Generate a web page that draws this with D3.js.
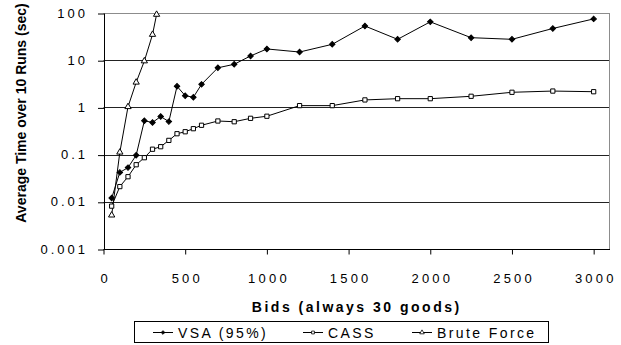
<!DOCTYPE html>
<html>
<head>
<meta charset="utf-8">
<script src="https://d3js.org/d3.v7.min.js"></script>
<style>
  body { margin: 0; background: #fff; }
  text { font-family: Arial, "Liberation Sans", sans-serif; }
</style>
</head>
<body>
<div id="chart"></div>
<script>
// data
var bids = [50, 100, 150, 200, 250, 300, 350, 400, 450, 500, 550, 600, 700, 800, 900, 1000, 1200, 1400, 1600, 1800, 2000, 2250, 2500, 2750, 3000];
var vsa = [0.012, 0.042, 0.053, 0.097, 0.52, 0.48, 0.64, 0.50, 2.8, 1.77, 1.64, 3.08, 6.9, 8.2, 12.3, 17.3, 14.9, 21.7, 53, 27.7, 65, 30, 27.7, 47, 75];
var cass = [0.0081, 0.021, 0.034, 0.061, 0.086, 0.13, 0.147, 0.20, 0.277, 0.305, 0.354, 0.418, 0.515, 0.497, 0.587, 0.65, 1.09, 1.09, 1.44, 1.53, 1.53, 1.72, 2.09, 2.22, 2.15];
var bruteBids = [50, 100, 150, 200, 250, 300, 325];
var brute = [0.0052, 0.112, 1.03, 3.4, 9.6, 35, 93];
var xTicks = [0, 500, 1000, 1500, 2000, 2500, 3000];
var yTicks = [0.001, 0.01, 0.1, 1, 10, 100];
var yTickLabels = ["0.001", "0.01", "0.1", "1", "10", "100"];
var seriesNames = ["VSA (95%)", "CASS", "Brute Force"];

// set the dimensions and margins of the graph
var margin = {top: 13, right: 11, bottom: 96, left: 103.5},
    width = 621 - margin.left - margin.right,
    height = 345 - margin.top - margin.bottom;

var svg = d3.select("#chart")
  .append("svg")
    .attr("width", 621)
    .attr("height", 345)
  .append("g")
    .attr("transform", "translate(" + margin.left + "," + margin.top + ")");

var x = d3.scaleLinear()
  .domain([0, 3100])
  .range([0, width]);

var y = d3.scaleLog()
  .domain([0.001, 100])
  .range([height, 0]);

// gridlines
svg.selectAll("grid")
  .data(yTicks.slice(1))
  .enter()
  .append("line")
    .attr("x1", 0)
    .attr("x2", width)
    .attr("y1", function(d) { return Math.round(y(d)) + 0.5; })
    .attr("y2", function(d) { return Math.round(y(d)) + 0.5; })
    .attr("stroke", function(d) { return d == 100 ? "#8c8c8c" : "#222"; })
    .attr("stroke-width", 1);

// gray plot border on the right
svg.append("line")
  .attr("x1", width - 0.5)
  .attr("x2", width - 0.5)
  .attr("y1", 0)
  .attr("y2", height)
  .attr("stroke", "#8c8c8c");

// X axis
var xAxis = svg.append("g")
  .attr("transform", "translate(0," + (height + 0.5) + ")")
  .call(d3.axisBottom(x).tickValues(xTicks).tickFormat(d3.format("d"))
    .tickSize(5).tickPadding(19).tickSizeOuter(0));
xAxis.select(".domain").attr("d", "M0,0H" + width);
xAxis.selectAll("text")
  .style("font-size", "13px")
  .style("letter-spacing", "3.2px")
  .attr("dx", "1.6px");

// Y axis
var yAxis = svg.append("g")
  .attr("transform", "translate(0.5,0)")
  .call(d3.axisLeft(y).tickValues(yTicks).tickFormat(function(d, i) { return yTickLabels[i]; })
    .tickSize(6).tickPadding(13).tickSizeOuter(0));
yAxis.selectAll("text")
  .style("font-size", "13px")
  .style("letter-spacing", "3px")
  .attr("dx", "3px");
yAxis.selectAll(".tick line").attr("transform", "translate(0,0.5)");

// axis titles
svg.append("text")
  .attr("x", width / 2)
  .attr("y", height + 63)
  .style("text-anchor", "middle")
  .style("font-size", "14px")
  .style("font-weight", "bold")
  .style("letter-spacing", "2.5px")
  .text("Bids (always 30 goods)");

svg.append("text")
  .attr("transform", "rotate(-90)")
  .attr("x", 0 - 100)
  .attr("y", 0 - margin.left + 26)
  .style("text-anchor", "middle")
  .style("font-size", "14px")
  .style("font-weight", "bold")
  .text("Average Time over 10 Runs (sec)");

// lines
var line = d3.line()
  .x(function(d) { return x(d[0]); })
  .y(function(d) { return y(d[1]); });

var series = [
  bids.map(function(b, i) { return [b, vsa[i]]; }),
  bids.map(function(b, i) { return [b, cass[i]]; }),
  bruteBids.map(function(b, i) { return [b, brute[i]]; })
];

series.forEach(function(s) {
  svg.append("path")
    .datum(s)
    .attr("fill", "none")
    .attr("stroke", "#000")
    .attr("stroke-width", 1)
    .attr("d", line);
});

// markers (diamond = square turned 45 degrees)
var shapes = [
  d3.symbol().type(d3.symbolSquare).size(15),
  d3.symbol().type(d3.symbolSquare).size(18),
  d3.symbol().type(d3.symbolTriangle).size(17)
];
var turns = [45, 0, 0];
var fills = ["#000", "#fff", "#fff"];

series.forEach(function(s, k) {
  svg.selectAll("mark" + k)
    .data(s)
    .enter()
    .append("path")
      .attr("transform", function(d) {
        return "translate(" + x(d[0]) + "," + y(d[1]) + ")rotate(" + turns[k] + ")";
      })
      .attr("d", shapes[k])
      .attr("fill", fills[k])
      .attr("stroke", "#000")
      .attr("stroke-width", 1);
});

// legend
var legend = d3.select("svg").append("g");
legend.append("rect")
  .attr("x", 134.5)
  .attr("y", 321.5)
  .attr("width", 414)
  .attr("height", 21)
  .attr("fill", "#fff")
  .attr("stroke", "#000");

var legendX = [153, 303, 412];
var legendShapes = [
  d3.symbol().type(d3.symbolSquare).size(7),
  d3.symbol().type(d3.symbolSquare).size(8),
  d3.symbol().type(d3.symbolTriangle).size(9)
];
seriesNames.forEach(function(name, k) {
  legend.append("line")
    .attr("x1", legendX[k])
    .attr("x2", legendX[k] + 20)
    .attr("y1", 332.5)
    .attr("y2", 332.5)
    .attr("stroke", "#000");
  legend.append("path")
    .attr("transform", "translate(" + (legendX[k] + 10) + ",332.5)rotate(" + turns[k] + ")")
    .attr("d", legendShapes[k])
    .attr("fill", fills[k])
    .attr("stroke", "#000")
    .attr("stroke-width", 0.8);
  legend.append("text")
    .attr("x", legendX[k] + 25)
    .attr("y", 337.5)
    .style("font-size", "14px")
    .style("letter-spacing", "2.4px")
    .text(name);
});
</script>
</body>
</html>
